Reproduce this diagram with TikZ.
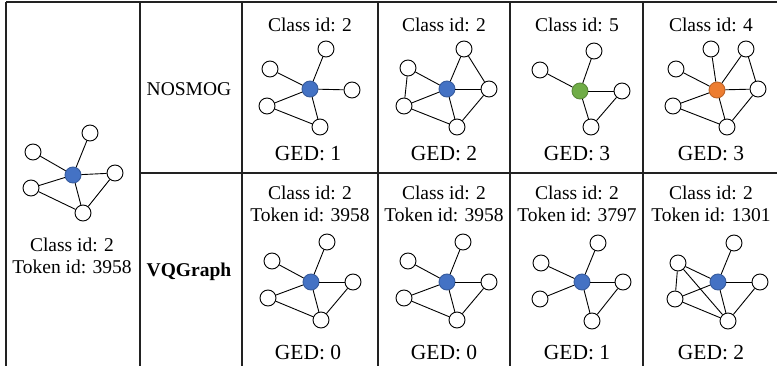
\documentclass[tikz,border=0pt]{standalone}
\usepackage{fontspec}
\setmainfont{Liberation Serif}
\usepackage{xcolor}
\definecolor{vqBlue}{HTML}{4472C4}
\definecolor{vqGreen}{HTML}{70AD47}
\definecolor{vqOrange}{HTML}{ED7D31}
\definecolor{vqRule}{HTML}{222222}
\usetikzlibrary{positioning}
\tikzset{
    vertex/.style={
        draw=black,
        fill=white,
        circle,
        minimum size=16pt,
        inner sep=0pt,
        line width=0.9pt
    },
    hub/.style={
        vertex,
        draw=vqBlue!80!black,
        fill=vqBlue
    },
    link/.style={
        line width=0.9pt,
        color=black
    },
    rule/.style={
        line width=1.05pt,
        color=vqRule
    },
    caption/.style={
        font=\fontsize{19.5}{22}\selectfont,
        inner sep=0pt
    },
    gedtext/.style={
        font=\fontsize{21.5}{24}\selectfont,
        inner sep=0pt
    }
}

\begin{document}
\begin{tikzpicture}[x=1pt,y=-1pt]
    \useasboundingbox (0,0) rectangle (777,366);

    % Table rules
    \draw[rule] (6,2) -- (777,2);
    \draw[rule] (140,173) -- (777,173);
    \foreach \xx in {6,140,242,378,510,643}
        \draw[rule] (\xx,2) -- (\xx,366);

    % Query graph
    \begin{scope}[shift={(73,175)}]
        \node[hub] (q-c) at (0,0) {};
        \node[vertex] (q-t) at (17,-42) {};
        \node[vertex] (q-ul) at (-40,-23) {};
        \node[vertex] (q-r) at (42,-2) {};
        \node[vertex] (q-ll) at (-42,13) {};
        \node[vertex] (q-b) at (10,38) {};
    \end{scope}
    \foreach \nn in {t,ul,r,ll,b}
        \draw[link] (q-c) -- (q-\nn);
    \draw[link] (q-ll) -- (q-b);
    \draw[link] (q-b) -- (q-r);
    \node[caption] (q-class) at (72,245) {Class id: 2};
    \node[caption] (q-token) at (72,267) {Token id: 3958};

    % Method names
    \node[caption] (nosmog) at (189,89) {NOSMOG};
    \node[caption, font=\fontsize{19.5}{22}\selectfont\bfseries] (vqgraph) at (189,272) {VQGraph};

    % NOSMOG, graph 1
    \begin{scope}[shift={(310,89)}]
        \node[hub] (a-c) at (0,0) {};
        \node[vertex] (a-t) at (16,-40) {};
        \node[vertex] (a-ul) at (-40,-20) {};
        \node[vertex] (a-r) at (42,1) {};
        \node[vertex] (a-ll) at (-43,17) {};
        \node[vertex] (a-b) at (10,38) {};
    \end{scope}
    \foreach \nn in {t,ul,r,ll,b}
        \draw[link] (a-c) -- (a-\nn);
    \draw[link] (a-ll) -- (a-b);
    \node[caption] (a-class) at (310,25) {Class id: 2};
    \node[gedtext] (a-ged) at (308,154) {GED: 1};

    % NOSMOG, graph 2
    \begin{scope}[shift={(447,89)}]
        \node[hub] (b-c) at (0,0) {};
        \node[vertex] (b-t) at (17,-40) {};
        \node[vertex] (b-ul) at (-39,-21) {};
        \node[vertex] (b-r) at (42,0) {};
        \node[vertex] (b-ll) at (-43,17) {};
        \node[vertex] (b-b) at (10,38) {};
    \end{scope}
    \foreach \nn in {t,ul,r,ll,b}
        \draw[link] (b-c) -- (b-\nn);
    \draw[link] (b-ul) -- (b-ll);
    \draw[link] (b-ll) -- (b-b);
    \draw[link] (b-t) -- (b-r);
    \draw[link] (b-r) -- (b-b);
    \node[caption] (b-class) at (444,25) {Class id: 2};
    \node[gedtext] (b-ged) at (444,154) {GED: 2};

    % NOSMOG, graph 3
    \begin{scope}[shift={(580,91)}]
        \node[hub, fill=vqGreen, draw=vqGreen!80!black] (c-c) at (0,0) {};
        \node[vertex] (c-t) at (14,-40) {};
        \node[vertex] (c-ul) at (-40,-21) {};
        \node[vertex] (c-r) at (42,0) {};
        \node[vertex] (c-b) at (11,36) {};
    \end{scope}
    \foreach \nn in {t,ul,r,b}
        \draw[link] (c-c) -- (c-\nn);
    \draw[link] (c-r) -- (c-b);
    \node[caption] (c-class) at (577,25) {Class id: 5};
    \node[gedtext] (c-ged) at (577,154) {GED: 3};

    % NOSMOG, graph 4
    \begin{scope}[shift={(717,90)}]
        \node[hub, fill=vqOrange, draw=vqOrange!80!black] (d-c) at (0,0) {};
        \node[vertex] (d-tl) at (-6,-41) {};
        \node[vertex] (d-t) at (29,-41) {};
        \node[vertex] (d-ul) at (-41,-21) {};
        \node[vertex] (d-r) at (41,-1) {};
        \node[vertex] (d-ll) at (-44,16) {};
        \node[vertex] (d-b) at (10,37) {};
    \end{scope}
    \foreach \nn in {tl,t,ul,r,ll,b}
        \draw[link] (d-c) -- (d-\nn);
    \draw[link] (d-t) -- (d-r);
    \draw[link] (d-r) -- (d-b);
    \draw[link] (d-ll) -- (d-b);
    \node[caption] (d-class) at (711,25) {Class id: 4};
    \node[gedtext] (d-ged) at (711,154) {GED: 3};

    % VQGraph, graph 1
    \begin{scope}[shift={(311,282)}]
        \node[hub] (e-c) at (0,0) {};
        \node[vertex] (e-t) at (16,-40) {};
        \node[vertex] (e-ul) at (-39,-21) {};
        \node[vertex] (e-r) at (42,0) {};
        \node[vertex] (e-ll) at (-43,16) {};
        \node[vertex] (e-b) at (10,38) {};
    \end{scope}
    \foreach \nn in {t,ul,r,ll,b}
        \draw[link] (e-c) -- (e-\nn);
    \draw[link] (e-ll) -- (e-b);
    \draw[link] (e-b) -- (e-r);
    \node[caption] (e-class) at (310,193) {Class id: 2};
    \node[caption] (e-token) at (310,215) {Token id: 3958};
    \node[gedtext] (e-ged) at (308,353) {GED: 0};

    % VQGraph, graph 2
    \begin{scope}[shift={(447,282)}]
        \node[hub] (f-c) at (0,0) {};
        \node[vertex] (f-t) at (16,-40) {};
        \node[vertex] (f-ul) at (-39,-21) {};
        \node[vertex] (f-r) at (42,0) {};
        \node[vertex] (f-ll) at (-43,16) {};
        \node[vertex] (f-b) at (10,38) {};
    \end{scope}
    \foreach \nn in {t,ul,r,ll,b}
        \draw[link] (f-c) -- (f-\nn);
    \draw[link] (f-ll) -- (f-b);
    \draw[link] (f-b) -- (f-r);
    \node[caption] (f-class) at (444,193) {Class id: 2};
    \node[caption] (f-token) at (444,215) {Token id: 3958};
    \node[gedtext] (f-ged) at (444,353) {GED: 0};

    % VQGraph, graph 3
    \begin{scope}[shift={(582,282)}]
        \node[hub] (g-c) at (0,0) {};
        \node[vertex] (g-t) at (16,-39) {};
        \node[vertex] (g-ul) at (-41,-19) {};
        \node[vertex] (g-r) at (41,0) {};
        \node[vertex] (g-ll) at (-42,17) {};
        \node[vertex] (g-b) at (10,39) {};
    \end{scope}
    \foreach \nn in {t,ul,r,ll,b}
        \draw[link] (g-c) -- (g-\nn);
    \draw[link] (g-r) -- (g-b);
    \node[caption] (g-class) at (577,193) {Class id: 2};
    \node[caption] (g-token) at (577,215) {Token id: 3797};
    \node[gedtext] (g-ged) at (577,353) {GED: 1};

    % VQGraph, graph 4
    \begin{scope}[shift={(718,282)}]
        \node[hub] (h-c) at (0,0) {};
        \node[vertex] (h-t) at (16,-39) {};
        \node[vertex] (h-ul) at (-40,-19) {};
        \node[vertex] (h-r) at (42,0) {};
        \node[vertex] (h-ll) at (-43,17) {};
        \node[vertex] (h-b) at (10,39) {};
    \end{scope}
    \foreach \nn in {t,ul,r,ll,b}
        \draw[link] (h-c) -- (h-\nn);
    \draw[link] (h-ul) -- (h-ll);
    \draw[link] (h-ul) -- (h-b);
    \draw[link] (h-ll) -- (h-b);
    \draw[link] (h-r) -- (h-b);
    \node[caption] (h-class) at (711,193) {Class id: 2};
    \node[caption] (h-token) at (711,215) {Token id: 1301};
    \node[gedtext] (h-ged) at (711,353) {GED: 2};
\end{tikzpicture}
\end{document}
